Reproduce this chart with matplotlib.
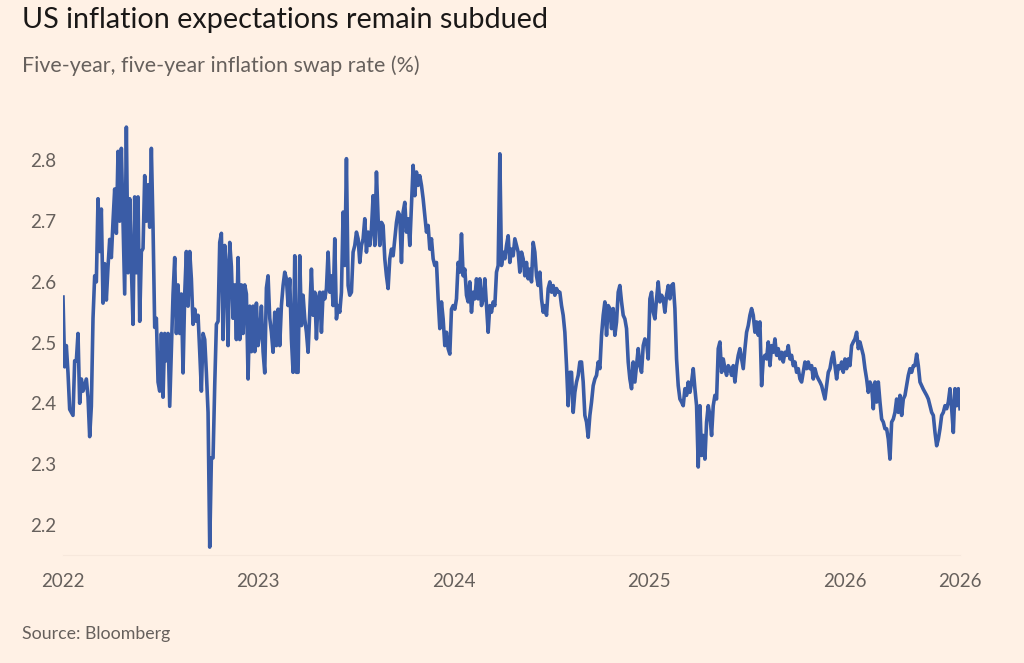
import numpy as np
import pandas as pd
import matplotlib
matplotlib.use("Agg")
import matplotlib.pyplot as plt

# five-year, five-year inflation swap rate (%), oldest first
rate_2022 = [
    2.575, 2.46, 2.495, 2.45, 2.39, 2.385, 2.38, 2.47, 2.47, 2.515,
    2.40, 2.44, 2.42, 2.43, 2.44, 2.41, 2.345, 2.395, 2.54, 2.61,
    2.60, 2.737, 2.65, 2.72, 2.565, 2.63, 2.57, 2.625, 2.67, 2.64,
    2.70, 2.753, 2.68, 2.815, 2.70, 2.82, 2.70, 2.58, 2.855, 2.615,
    2.737, 2.625, 2.53, 2.74, 2.615, 2.74, 2.535, 2.65, 2.655, 2.775,
    2.70, 2.76, 2.69, 2.82, 2.69, 2.525, 2.54, 2.435, 2.42, 2.515,
    2.41, 2.515, 2.47, 2.515, 2.395, 2.485, 2.58, 2.64, 2.515, 2.595,
    2.515, 2.58, 2.45, 2.58, 2.65, 2.56, 2.65, 2.605, 2.53, 2.555,
    2.535, 2.545, 2.485, 2.42, 2.515, 2.505, 2.45, 2.385, 2.163, 2.31,
    2.31, 2.43, 2.53, 2.535, 2.665, 2.68, 2.505, 2.66, 2.625, 2.495,
    2.665, 2.625, 2.54, 2.595, 2.505, 2.64, 2.505, 2.595, 2.515, 2.595,
    2.58, 2.44, 2.56, 2.485, 2.56, 2.485, 2.565, 2.495, 2.515, 2.56,
    2.485, 2.45, 2.59, 2.61, 2.54,
]
rate_2023 = [
    2.517, 2.484, 2.55, 2.495, 2.555, 2.495, 2.561, 2.594, 2.616, 2.605,
    2.561, 2.605, 2.506, 2.451, 2.643, 2.451, 2.451, 2.643, 2.528, 2.578,
    2.539, 2.517, 2.484, 2.55, 2.621, 2.545, 2.583, 2.506, 2.572, 2.583,
    2.517, 2.583, 2.572, 2.589, 2.649, 2.583, 2.61, 2.561, 2.671, 2.539,
    2.561, 2.55, 2.583, 2.715, 2.627, 2.803, 2.594, 2.578, 2.583, 2.649,
    2.66, 2.682, 2.671, 2.632, 2.66, 2.671, 2.704, 2.649, 2.682, 2.66,
    2.687, 2.742, 2.66, 2.781, 2.704, 2.66, 2.698, 2.693, 2.638, 2.61,
    2.589, 2.638, 2.654, 2.643, 2.671, 2.698, 2.715, 2.71, 2.632, 2.715,
    2.731, 2.682, 2.704, 2.66, 2.726, 2.792, 2.742, 2.781, 2.759, 2.775,
]
rate_2024 = [
    2.759, 2.737, 2.71, 2.682, 2.693, 2.654, 2.671, 2.638, 2.627, 2.632,
    2.572, 2.523, 2.567, 2.539, 2.495, 2.517, 2.49, 2.481, 2.555, 2.561,
    2.555, 2.572, 2.632, 2.616, 2.679, 2.61, 2.621, 2.578, 2.567, 2.6,
    2.55, 2.583, 2.572, 2.605, 2.572, 2.605, 2.561, 2.572, 2.605, 2.561,
    2.517, 2.561, 2.55, 2.567, 2.561, 2.616, 2.627, 2.811, 2.627, 2.649,
    2.638, 2.66, 2.676, 2.632, 2.654, 2.643, 2.671, 2.66, 2.649, 2.616,
    2.649, 2.638, 2.61, 2.632, 2.605, 2.621, 2.6, 2.665, 2.649, 2.61,
    2.594, 2.616, 2.572, 2.55, 2.561, 2.545, 2.589, 2.6, 2.583, 2.594,
    2.578, 2.589, 2.583, 2.583, 2.561, 2.545, 2.517, 2.462, 2.396, 2.451,
]
rate_2025a = [
    2.451, 2.385, 2.418, 2.435, 2.446, 2.468, 2.468, 2.435, 2.38, 2.369,
    2.344, 2.38, 2.402, 2.429, 2.44, 2.446, 2.468, 2.457, 2.512, 2.545,
    2.567, 2.512, 2.561, 2.556, 2.523, 2.556, 2.512, 2.534, 2.583, 2.594,
    2.567, 2.545, 2.539, 2.523, 2.468, 2.44, 2.424, 2.468, 2.435, 2.462,
    2.49, 2.462, 2.451, 2.495, 2.506, 2.501, 2.473, 2.572, 2.583, 2.55,
    2.539, 2.572, 2.6, 2.567, 2.578, 2.572, 2.55, 2.578, 2.594, 2.572,
    2.594, 2.597, 2.556, 2.473, 2.429, 2.407, 2.402, 2.396, 2.424, 2.413,
    2.435, 2.418, 2.435, 2.457, 2.424, 2.396, 2.295, 2.396, 2.314, 2.347,
    2.308, 2.369, 2.396, 2.38, 2.347, 2.396, 2.413, 2.407, 2.49, 2.501,
]
rate_2025b = [
    2.451, 2.473, 2.457, 2.446, 2.462, 2.457, 2.446, 2.462, 2.435, 2.462,
    2.479, 2.49, 2.473, 2.457, 2.49, 2.517, 2.528, 2.545, 2.556, 2.545,
    2.517, 2.534, 2.512, 2.534, 2.429, 2.473, 2.479, 2.473, 2.501, 2.462,
    2.495, 2.484, 2.506, 2.479, 2.49, 2.473, 2.484, 2.468, 2.484, 2.479,
    2.495, 2.473, 2.479, 2.462, 2.468, 2.451, 2.457, 2.44, 2.435, 2.451,
    2.468, 2.457, 2.468, 2.457, 2.462, 2.44, 2.457, 2.446, 2.44, 2.435,
    2.429, 2.418, 2.407, 2.429, 2.451, 2.457, 2.473, 2.484, 2.462, 2.44,
    2.462, 2.457, 2.468, 2.451, 2.473, 2.457, 2.473, 2.462, 2.495, 2.501,
    2.506, 2.517, 2.49, 2.501, 2.49, 2.479, 2.457, 2.44, 2.418, 2.435,
]
rate_2026 = [
    2.429, 2.391, 2.435, 2.402, 2.435, 2.402, 2.374, 2.369, 2.358, 2.358,
    2.341, 2.308, 2.369, 2.374, 2.385, 2.407, 2.385, 2.413, 2.38, 2.407,
    2.413, 2.429, 2.446, 2.457, 2.451, 2.462, 2.462, 2.481, 2.462, 2.435,
    2.429, 2.423, 2.418, 2.413, 2.407, 2.396, 2.385, 2.38, 2.352, 2.33,
    2.341, 2.358, 2.38, 2.385, 2.396, 2.391, 2.402, 2.424, 2.391, 2.352,
    2.424, 2.396, 2.424, 2.391,
]

start_date = "2022-01-01"
end_date = "2026-08-05"
tick_dates = ["2022-01-01", "2023-01-01", "2024-01-01", "2025-01-01",
              "2026-01-01", "2026-08-05"]
tick_labels = ["2022", "2023", "2024", "2025", "2026", "2026"]
y_ticks = [2.2, 2.3, 2.4, 2.5, 2.6, 2.7, 2.8]

BG = "#fff1e5"
LINE = "#3a5ca6"
GREY = "#66605c"
plt.rcParams["font.family"] = ["Lato", "DejaVu Sans"]

rates = np.array(rate_2022 + rate_2023 + rate_2024 + rate_2025a
                 + rate_2025b + rate_2026)
dates = pd.date_range(start_date, end_date, periods=len(rates))

fig = plt.figure(figsize=(10.24, 6.63), dpi=100, facecolor=BG)
ax = fig.add_axes([63 / 1024, 1 - 555 / 663, 897 / 1024, 437 / 663])
ax.set_facecolor(BG)

ax.plot(dates, rates, color=LINE, lw=2.6, solid_joinstyle="round")

ax.set_xlim(pd.Timestamp(start_date), pd.Timestamp(end_date))
ax.set_ylim(2.15, 2.87)

ax.set_xticks([pd.Timestamp(d) for d in tick_dates])
ax.set_xticklabels(tick_labels)
ax.set_yticks(y_ticks)
ax.set_yticklabels(["{:.1f}".format(v) for v in y_ticks])
ax.tick_params(axis="both", length=0, colors=GREY, labelsize=13.5)
ax.tick_params(axis="y", pad=5)
ax.tick_params(axis="x", pad=13)

for side in ["top", "right", "left"]:
    ax.spines[side].set_visible(False)
ax.spines["bottom"].set_color("#f7e8dc")

fig.text(22 / 1024, 1 - 20 / 663, "US inflation expectations remain subdued",
         fontsize=20.7, color="#1a1817", va="center", ha="left")
fig.text(22 / 1024, 1 - 66 / 663, "Five-year, five-year inflation swap rate (%)",
         fontsize=15.4, color=GREY, va="center", ha="left")
fig.text(22 / 1024, 1 - 634 / 663, "Source: Bloomberg",
         fontsize=12.8, color=GREY, va="center", ha="left")

fig.savefig("out.png", dpi=100, facecolor=BG)
